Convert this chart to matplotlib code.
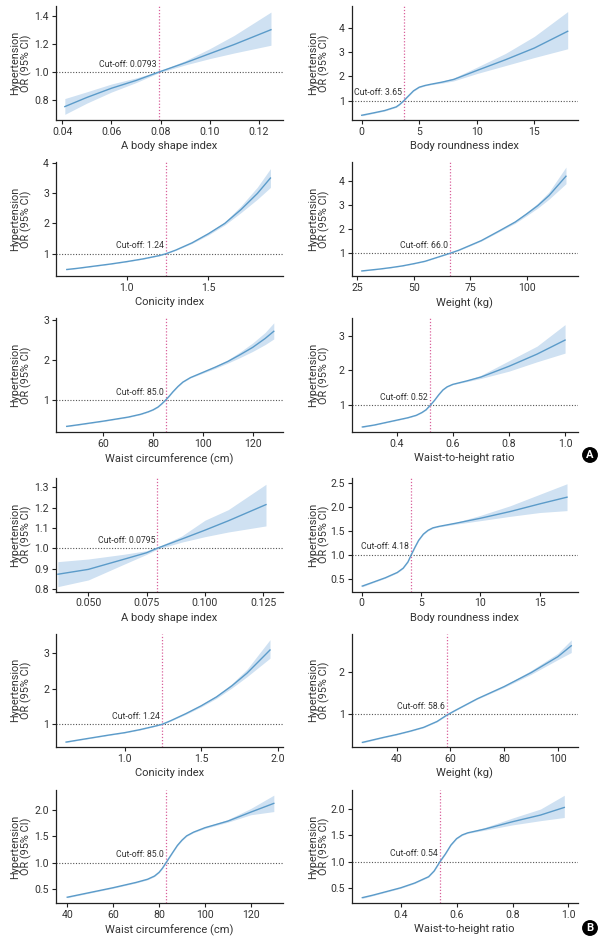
import matplotlib
matplotlib.use("Agg")
import matplotlib.pyplot as plt
from matplotlib.ticker import FixedLocator, FixedFormatter

plt.rcParams['font.family'] = ['Roboto', 'DejaVu Sans']

# ---------------- data ----------------
# Panel A
absi_a_x  = [0.041, 0.05, 0.06, 0.07, 0.0793, 0.09, 0.10, 0.11, 0.125]
absi_a_or = [0.755, 0.82, 0.885, 0.94, 1.0, 1.065, 1.13, 1.195, 1.30]
absi_a_lo = [0.70, 0.78, 0.858, 0.925, 0.995, 1.05, 1.095, 1.135, 1.19]
absi_a_hi = [0.812, 0.86, 0.915, 0.958, 1.005, 1.08, 1.165, 1.26, 1.425]

bri_a_x  = [0.0, 1.0, 2.0, 3.0, 3.3, 3.65, 4.0, 4.5, 5.0, 5.5, 6.0, 7.0, 8.0, 10.0, 12.5, 15.0, 17.9]
bri_a_or = [0.405, 0.5, 0.6, 0.75, 0.85, 1.0, 1.17, 1.41, 1.56, 1.63, 1.68, 1.77, 1.88, 2.245, 2.69, 3.17, 3.86]
bri_a_lo = [0.38, 0.48, 0.58, 0.73, 0.83, 0.98, 1.15, 1.39, 1.54, 1.61, 1.66, 1.73, 1.82, 2.12, 2.45, 2.78, 3.14]
bri_a_hi = [0.43, 0.52, 0.62, 0.77, 0.87, 1.02, 1.19, 1.43, 1.58, 1.65, 1.70, 1.81, 1.94, 2.38, 2.95, 3.65, 4.67]

ci_a_x  = [0.633, 0.7, 0.8, 0.9, 1.0, 1.1, 1.2, 1.24, 1.3, 1.4, 1.5, 1.6, 1.7, 1.8, 1.88]
ci_a_or = [0.48, 0.52, 0.59, 0.66, 0.74, 0.83, 0.94, 1.0, 1.12, 1.36, 1.66, 2.0, 2.46, 2.99, 3.5]
ci_a_lo = [0.47, 0.51, 0.58, 0.65, 0.73, 0.82, 0.93, 0.99, 1.11, 1.34, 1.62, 1.95, 2.36, 2.8, 3.19]
ci_a_hi = [0.49, 0.53, 0.60, 0.67, 0.75, 0.84, 0.95, 1.01, 1.13, 1.38, 1.70, 2.05, 2.58, 3.2, 3.81]

wt_a_x  = [27.0, 35.0, 40.0, 45.0, 50.0, 55.0, 60.0, 66.0, 70.0, 75.0, 80.0, 87.5, 95.0, 100.0, 105.0, 110.0, 117.5]
wt_a_or = [0.27, 0.35, 0.41, 0.48, 0.57, 0.67, 0.82, 1.0, 1.13, 1.33, 1.53, 1.91, 2.3, 2.63, 2.98, 3.4, 4.2]
wt_a_lo = [0.26, 0.34, 0.40, 0.47, 0.56, 0.66, 0.81, 0.99, 1.12, 1.31, 1.51, 1.88, 2.25, 2.56, 2.88, 3.25, 3.89]
wt_a_hi = [0.28, 0.36, 0.42, 0.49, 0.58, 0.68, 0.83, 1.01, 1.14, 1.35, 1.55, 1.94, 2.35, 2.70, 3.08, 3.55, 4.58]

wc_a_x  = [45.3, 50.0, 60.0, 70.0, 75.0, 78.0, 80.0, 82.0, 83.5, 85.0, 86.5, 88.0, 90.0, 92.0, 95.0,
           100.0, 105.0, 110.0, 115.0, 120.0, 125.0, 128.5]
wc_a_or = [0.35, 0.39, 0.48, 0.58, 0.65, 0.71, 0.76, 0.83, 0.91, 1.0, 1.1, 1.21, 1.34, 1.45, 1.56,
           1.69, 1.82, 1.96, 2.13, 2.31, 2.53, 2.71]
wc_a_lo = [0.34, 0.38, 0.47, 0.57, 0.64, 0.70, 0.75, 0.82, 0.90, 0.99, 1.09, 1.20, 1.33, 1.44, 1.55,
           1.67, 1.79, 1.92, 2.06, 2.21, 2.38, 2.52]
wc_a_hi = [0.36, 0.40, 0.49, 0.59, 0.66, 0.72, 0.77, 0.84, 0.92, 1.01, 1.11, 1.22, 1.35, 1.46, 1.57,
           1.71, 1.85, 2.0, 2.2, 2.42, 2.68, 2.92]

whtr_a_x  = [0.278, 0.32, 0.36, 0.4, 0.44, 0.47, 0.49, 0.505, 0.52, 0.535, 0.55, 0.565, 0.58, 0.6,
             0.65, 0.7, 0.8, 0.9, 1.0]
whtr_a_or = [0.375, 0.43, 0.5, 0.57, 0.64, 0.71, 0.79, 0.87, 1.0, 1.14, 1.3, 1.44, 1.53, 1.6,
             1.7, 1.81, 2.12, 2.47, 2.875]
whtr_a_lo = [0.36, 0.42, 0.49, 0.56, 0.63, 0.70, 0.78, 0.86, 0.99, 1.13, 1.29, 1.43, 1.52, 1.59,
             1.68, 1.77, 1.98, 2.25, 2.5]
whtr_a_hi = [0.39, 0.44, 0.51, 0.58, 0.65, 0.72, 0.80, 0.88, 1.01, 1.15, 1.31, 1.45, 1.54, 1.61,
             1.72, 1.86, 2.28, 2.7, 3.32]

# Panel B
absi_b_x  = [0.0369, 0.05, 0.065, 0.075, 0.0795, 0.09, 0.10, 0.11, 0.1262]
absi_b_or = [0.872, 0.896, 0.945, 0.978, 1.0, 1.045, 1.089, 1.135, 1.215]
absi_b_lo = [0.811, 0.844, 0.92, 0.97, 0.995, 1.03, 1.057, 1.08, 1.11]
absi_b_hi = [0.934, 0.947, 0.97, 0.988, 1.005, 1.06, 1.138, 1.19, 1.315]

bri_b_x  = [0.05, 1.0, 2.0, 3.0, 3.5, 3.9, 4.18, 4.5, 4.8, 5.2, 5.6, 6.0, 6.5, 8.0, 10.0, 12.5, 15.0, 17.3]
bri_b_or = [0.346, 0.43, 0.52, 0.63, 0.72, 0.85, 1.0, 1.16, 1.3, 1.43, 1.51, 1.56, 1.59, 1.66, 1.76, 1.9, 2.06, 2.2]
bri_b_lo = [0.33, 0.42, 0.51, 0.62, 0.71, 0.84, 0.99, 1.15, 1.29, 1.42, 1.50, 1.55, 1.58, 1.64, 1.71, 1.8, 1.88, 1.92]
bri_b_hi = [0.36, 0.44, 0.53, 0.64, 0.73, 0.86, 1.01, 1.17, 1.31, 1.44, 1.52, 1.57, 1.60, 1.68, 1.82, 2.02, 2.26, 2.48]

ci_b_x  = [0.617, 0.7, 0.8, 0.9, 1.0, 1.1, 1.2, 1.245, 1.3, 1.4, 1.5, 1.6, 1.7, 1.8, 1.95]
ci_b_or = [0.50, 0.56, 0.63, 0.70, 0.765, 0.85, 0.95, 1.0, 1.1, 1.3, 1.52, 1.77, 2.08, 2.44, 3.09]
ci_b_lo = [0.49, 0.55, 0.62, 0.69, 0.755, 0.84, 0.94, 0.99, 1.09, 1.28, 1.49, 1.73, 2.02, 2.34, 2.86]
ci_b_hi = [0.51, 0.57, 0.64, 0.71, 0.775, 0.86, 0.96, 1.01, 1.11, 1.32, 1.55, 1.81, 2.14, 2.55, 3.38]

wt_b_x  = [27.2, 35.0, 40.0, 45.0, 50.0, 55.0, 58.6, 62.0, 70.0, 80.0, 90.0, 100.0, 105.0]
wt_b_or = [0.333, 0.45, 0.52, 0.6, 0.69, 0.83, 0.98, 1.1, 1.37, 1.66, 1.99, 2.37, 2.63]
wt_b_lo = [0.32, 0.44, 0.51, 0.59, 0.68, 0.82, 0.97, 1.09, 1.36, 1.64, 1.95, 2.30, 2.47]
wt_b_hi = [0.345, 0.46, 0.53, 0.61, 0.70, 0.84, 0.99, 1.11, 1.38, 1.68, 2.04, 2.45, 2.77]

wc_b_x  = [40.0, 50.0, 60.0, 70.0, 75.0, 78.0, 80.0, 81.5, 83.0, 84.5, 86.0, 88.0, 90.0, 92.0, 95.0,
           100.0, 110.0, 120.0, 130.0]
wc_b_or = [0.35, 0.44, 0.53, 0.63, 0.69, 0.75, 0.82, 0.9, 1.0, 1.1, 1.2, 1.33, 1.43, 1.51, 1.58,
           1.665, 1.79, 1.96, 2.125]
wc_b_lo = [0.34, 0.43, 0.52, 0.62, 0.68, 0.74, 0.81, 0.89, 0.99, 1.09, 1.19, 1.32, 1.42, 1.50, 1.57,
           1.65, 1.77, 1.91, 1.97]
wc_b_hi = [0.36, 0.45, 0.54, 0.64, 0.70, 0.76, 0.83, 0.91, 1.01, 1.11, 1.21, 1.34, 1.44, 1.52, 1.59,
           1.68, 1.82, 2.03, 2.28]

whtr_b_x  = [0.263, 0.3, 0.35, 0.4, 0.45, 0.5, 0.52, 0.54, 0.56, 0.58, 0.6, 0.62, 0.64, 0.7, 0.8, 0.9, 0.985]
whtr_b_or = [0.324, 0.37, 0.44, 0.51, 0.6, 0.72, 0.83, 1.0, 1.15, 1.32, 1.44, 1.51, 1.55, 1.62, 1.76, 1.886, 2.03]
whtr_b_lo = [0.31, 0.36, 0.43, 0.50, 0.59, 0.71, 0.82, 0.99, 1.14, 1.31, 1.43, 1.50, 1.54, 1.60, 1.70, 1.78, 1.84]
whtr_b_hi = [0.34, 0.38, 0.45, 0.52, 0.61, 0.73, 0.84, 1.01, 1.16, 1.33, 1.45, 1.52, 1.56, 1.65, 1.83, 2.0, 2.26]

# Cut-offs (label values and line positions)
cutoff_labels = ["0.0793", "3.65", "1.24", "66.0", "85.0", "0.52",
                 "0.0795", "4.18", "1.24", "58.6", "85.0", "0.54"]
cutoff_pos = [0.0793, 3.65, 1.24, 66.0, 85.0, 0.52,
              0.0795, 4.18, 1.245, 58.6, 83.0, 0.54]

x_labels = ["A body shape index", "Body roundness index", "Conicity index",
            "Weight (kg)", "Waist circumference (cm)", "Waist-to-height ratio"] * 2

# Tick values / labels
xt_vals = [[0.04, 0.06, 0.08, 0.10, 0.12], [0, 5, 10, 15], [1.0, 1.5],
           [25, 50, 75, 100], [60, 80, 100, 120], [0.4, 0.6, 0.8, 1.0],
           [0.050, 0.075, 0.100, 0.125], [0, 5, 10, 15], [1.0, 1.5, 2.0],
           [40, 60, 80, 100], [40, 60, 80, 100, 120], [0.4, 0.6, 0.8, 1.0]]
xt_labs = [["0.04", "0.06", "0.08", "0.10", "0.12"], ["0", "5", "10", "15"], ["1.0", "1.5"],
           ["25", "50", "75", "100"], ["60", "80", "100", "120"], ["0.4", "0.6", "0.8", "1.0"],
           ["0.050", "0.075", "0.100", "0.125"], ["0", "5", "10", "15"], ["1.0", "1.5", "2.0"],
           ["40", "60", "80", "100"], ["40", "60", "80", "100", "120"], ["0.4", "0.6", "0.8", "1.0"]]
yt_vals = [[0.8, 1.0, 1.2, 1.4], [1, 2, 3, 4], [1, 2, 3, 4], [1, 2, 3, 4], [1, 2, 3], [1, 2, 3],
           [0.8, 0.9, 1.0, 1.1, 1.2, 1.3], [0.5, 1.0, 1.5, 2.0, 2.5], [1, 2, 3], [1, 2],
           [0.5, 1.0, 1.5, 2.0], [0.5, 1.0, 1.5, 2.0]]
yt_labs = [["0.8", "1.0", "1.2", "1.4"], ["1", "2", "3", "4"], ["1", "2", "3", "4"],
           ["1", "2", "3", "4"], ["1", "2", "3"], ["1", "2", "3"],
           ["0.8", "0.9", "1.0", "1.1", "1.2", "1.3"], ["0.5", "1.0", "1.5", "2.0", "2.5"],
           ["1", "2", "3"], ["1", "2"], ["0.5", "1.0", "1.5", "2.0"], ["0.5", "1.0", "1.5", "2.0"]]

# axis limits
xlims = [(0.0374, 0.1299), (-0.87, 18.77), (0.567, 1.957), (22.5, 122.7), (41.0, 132.2), (0.24, 1.045),
         (0.0361, 0.1335), (-0.84, 18.2), (0.551, 2.035), (23.2, 107.4), (35.1, 134.0), (0.225, 1.033)]
ylims = [(0.66, 1.468), (0.21, 4.9), (0.265, 4.03), (0.06, 4.79), (0.21, 3.04), (0.23, 3.51),
         (0.787, 1.346), (0.233, 2.6), (0.37, 3.54), (0.23, 2.91), (0.235, 2.378), (0.217, 2.36)]

series = [(absi_a_x, absi_a_or, absi_a_lo, absi_a_hi), (bri_a_x, bri_a_or, bri_a_lo, bri_a_hi),
          (ci_a_x, ci_a_or, ci_a_lo, ci_a_hi), (wt_a_x, wt_a_or, wt_a_lo, wt_a_hi),
          (wc_a_x, wc_a_or, wc_a_lo, wc_a_hi), (whtr_a_x, whtr_a_or, whtr_a_lo, whtr_a_hi),
          (absi_b_x, absi_b_or, absi_b_lo, absi_b_hi), (bri_b_x, bri_b_or, bri_b_lo, bri_b_hi),
          (ci_b_x, ci_b_or, ci_b_lo, ci_b_hi), (wt_b_x, wt_b_or, wt_b_lo, wt_b_hi),
          (wc_b_x, wc_b_or, wc_b_lo, wc_b_hi), (whtr_b_x, whtr_b_or, whtr_b_lo, whtr_b_hi)]

# ---------------- layout ----------------
W, H = 605, 939
fig = plt.figure(figsize=(W / 100, H / 100), dpi=100)

col_px = [(56, 283), (351.7, 577.7)]
row_px = [(6, 120), (162, 276), (318, 432), (478, 591.5), (634, 746.7), (790, 903.3)]
ylab_x_px = [32, 330]

LINE = '#5b9bc9'
BAND = '#cfe1f2'
CUT = '#d9609b'
TXT = '#333333'

for i, (x, y, lo, hi) in enumerate(series):
    r, c = divmod(i, 2)
    l, rr = col_px[c]
    t, b = row_px[r]
    ax = fig.add_axes([l / W, 1 - b / H, (rr - l) / W, (b - t) / H])
    ax.fill_between(x, lo, hi, color=BAND, lw=0, zorder=1)
    ax.plot(x, y, color=LINE, lw=1.0, zorder=3)
    ax.axhline(1.0, color='#555555', lw=0.8, ls=(0, (1, 1.5)), zorder=2)
    ax.axvline(cutoff_pos[i], color=CUT, lw=0.9, ls=(0, (1, 1.5)), zorder=2)
    ax.annotate(f"Cut-off: {cutoff_labels[i]}", xy=(cutoff_pos[i], 1.0),
                xytext=(-1.5, 2.5), textcoords='offset points', ha='right', va='bottom',
                fontsize=6.3, color=TXT, zorder=4)
    ax.set_xlim(*xlims[i])
    ax.set_ylim(*ylims[i])
    ax.xaxis.set_major_locator(FixedLocator(xt_vals[i]))
    ax.xaxis.set_major_formatter(FixedFormatter(xt_labs[i]))
    ax.yaxis.set_major_locator(FixedLocator(yt_vals[i]))
    ax.yaxis.set_major_formatter(FixedFormatter(yt_labs[i]))
    for s in ('top', 'right'):
        ax.spines[s].set_visible(False)
    for s in ('left', 'bottom'):
        ax.spines[s].set_linewidth(0.9)
        ax.spines[s].set_color('#222222')
    ax.tick_params(direction='out', length=3, width=0.8, labelsize=7.6, colors='#222222',
                   labelcolor=TXT, pad=2)
    ax.set_xlabel(x_labels[i], fontsize=8, color=TXT, labelpad=3)
    ax.set_ylabel("Hypertension\nOR (95% CI)", fontsize=7.8, color=TXT, linespacing=1.0)
    ax.yaxis.set_label_coords((ylab_x_px[c] - l) / (rr - l), 0.5)
    ax.set_facecolor('none')

for lab, (xp, yp) in zip(["A", "B"], [(590, 455), (590, 928)]):
    fig.text(xp / W, 1 - yp / H, lab, ha='center', va='center', fontsize=8, color='white',
             fontweight='bold',
             bbox=dict(boxstyle='circle,pad=0.2', fc='black', ec='black'))

fig.savefig("out.png", dpi=100)
